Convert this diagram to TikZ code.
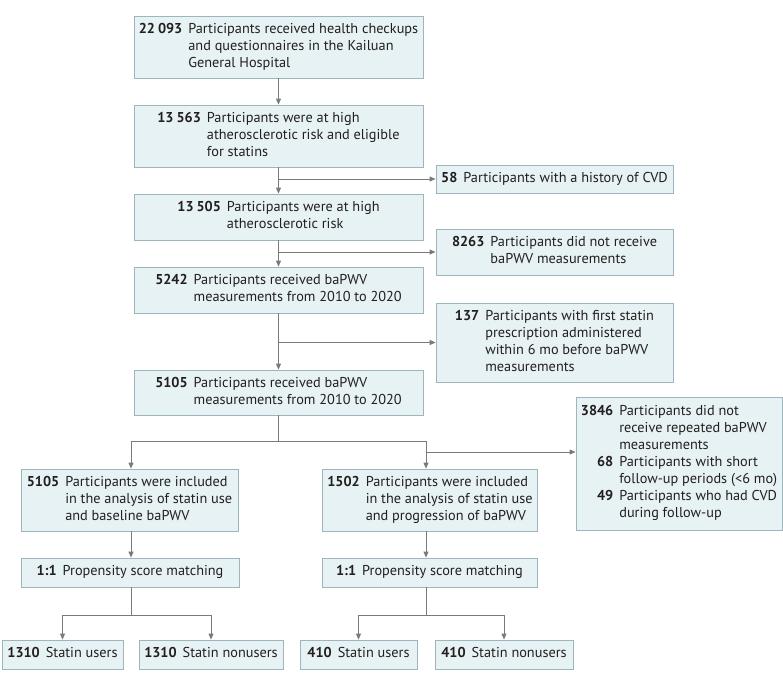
\documentclass[tikz,border=0pt]{standalone}
\usepackage{fontspec}
\setmainfont{PT Sans}
\usetikzlibrary{arrows.meta}
\definecolor{boxfill}{HTML}{E7F2F4}
\definecolor{boxline}{HTML}{9DB6BB}
\definecolor{linecol}{HTML}{7A7A7A}
\definecolor{txt}{HTML}{231F20}
\newcommand{\bx}[1]{\begin{tabular}{@{}r@{\hspace{6pt}}l@{}}#1\end{tabular}}
\begin{document}
\begin{tikzpicture}[x=1pt,y=-1pt,
  box/.style={draw=boxline, fill=boxfill, line width=0.8pt, inner sep=0pt, anchor=center,
    text=txt, font=\fontsize{14.3}{17}\selectfont},
  arr/.style={draw=linecol, line width=0.9pt, -{Triangle[length=6pt,width=5pt]}},
  ln/.style={draw=linecol, line width=0.9pt}]
\useasboundingbox (0,0) rectangle (783,690);
% main column
\node[box, minimum width=289pt, minimum height=62pt] (b1) at (278.5,47)
  {\bx{\textbf{22\hspace{3pt}093} & Participants received health checkups\\ & and questionnaires in the Kailuan\\ & General Hospital}};
\node[box, minimum width=289pt, minimum height=62pt] (b2) at (278.5,136)
  {\bx{\textbf{13\hspace{3pt}563} & Participants were at high\\ & atherosclerotic risk and eligible\\ & for statins}};
\node[box, minimum width=289pt, minimum height=46pt] (b3) at (278.5,217)
  {\bx{\textbf{13\hspace{3pt}505} & Participants were at high\\ & atherosclerotic risk}};
\node[box, minimum width=289pt, minimum height=46pt] (b4) at (278.5,290)
  {\bx{\textbf{5242} & Participants received baPWV\\ & measurements from 2010 to 2020}};
\node[box, minimum width=289pt, minimum height=45pt] (b5) at (278.5,392.5)
  {\bx{\textbf{5105} & Participants received baPWV\\ & measurements from 2010 to 2020}};
% exclusions
\node[box, minimum width=237pt, minimum height=28pt] (e1) at (554.5,179)
  {\bx{\textbf{58} & Participants with a history of CVD}};
\node[box, minimum width=237pt, minimum height=46pt] (e2) at (554.5,252)
  {\bx{\textbf{8263} & Participants did not receive\\ & baPWV measurements}};
\node[box, minimum width=237pt, minimum height=79pt] (e3) at (554.5,342.5)
  {\bx{\textbf{137} & Participants with first statin\\ & prescription administered\\ & within 6 mo before baPWV\\ & measurements}};
\node[box, minimum width=206pt, minimum height=133pt] (e4) at (679,463.5)
  {\bx{\textbf{3846} & Participants did not\\ & receive repeated baPWV\\ & measurements\\
   \textbf{68} & Participants with short\\ & follow-up periods (<6 mo)\\
   \textbf{49} & Participants who had CVD\\ & during follow-up}};
% analysis branches
\node[box, minimum width=217pt, minimum height=62pt] (l1) at (129.5,500)
  {\bx{\textbf{5105} & Participants were included\\ & in the analysis of statin use\\ & and baseline baPWV}};
\node[box, minimum width=215pt, minimum height=62pt] (r1) at (430,500)
  {\bx{\textbf{1502} & Participants were included\\ & in the analysis of statin use\\ & and progression of baPWV}};
\node[box, minimum width=218pt, minimum height=29pt] (lp) at (130,572.5)
  {\bx{\textbf{1:1} & Propensity score matching}};
\node[box, minimum width=215pt, minimum height=29pt] (rp) at (429.5,572.5)
  {\bx{\textbf{1:1} & Propensity score matching}};
% final groups
\node[box, minimum width=121pt, minimum height=29pt] (g1) at (62.5,654.5)
  {\bx{\textbf{1310} & Statin users}};
\node[box, minimum width=144pt, minimum height=29pt] (g2) at (211,654.5)
  {\bx{\textbf{1310} & Statin nonusers}};
\node[box, minimum width=117pt, minimum height=29pt] (g3) at (358.5,654.5)
  {\bx{\textbf{410} & Statin users}};
\node[box, minimum width=138pt, minimum height=29pt] (g4) at (504,654.5)
  {\bx{\textbf{410} & Statin nonusers}};
% connectors main column
\draw[arr] (b1.south) -- (b2.north);
\draw[arr] (b2.south) -- (b3.north);
\draw[arr] (b2.south |- e1.west) -- (e1.west);
\draw[arr] (b3.south) -- (b4.north);
\draw[arr] (b3.south |- e2.west) -- (e2.west);
\draw[arr] (b4.south) -- (b5.north);
\draw[arr] (b4.south |- e3.west) -- (e3.west);
% split
\coordinate (j0) at (278.5,441);
\coordinate (jL) at (131,441);
\coordinate (jR) at (426,441);
\coordinate (bR) at (426,452);
\draw[ln] (b5.south) -- (j0);
\draw[ln] (jL) -- (jR);
\draw[arr] (jL) -- (jL |- l1.north);
\draw[arr] (jR) -- (jR |- r1.north);
\draw[arr] (bR) -- (bR -| e4.west);
\draw[arr] (l1.south -| jL) -- (lp.north -| jL);
\draw[arr] (r1.south -| jR) -- (rp.north -| jR);
% PSM splits
\coordinate (kL) at (131,615);
\coordinate (kR) at (426,615);
\draw[ln] (lp.south -| kL) -- (kL);
\draw[ln] (rp.south -| kR) -- (kR);
\draw[ln] (kL -| g1.north) -- (kL -| g2.north);
\draw[ln] (kR -| g3.north) -- (kR -| g4.north);
\draw[arr] (kL -| g1.north) -- (g1.north);
\draw[arr] (kL -| g2.north) -- (g2.north);
\draw[arr] (kR -| g3.north) -- (g3.north);
\draw[arr] (kR -| g4.north) -- (g4.north);
\end{tikzpicture}
\end{document}
